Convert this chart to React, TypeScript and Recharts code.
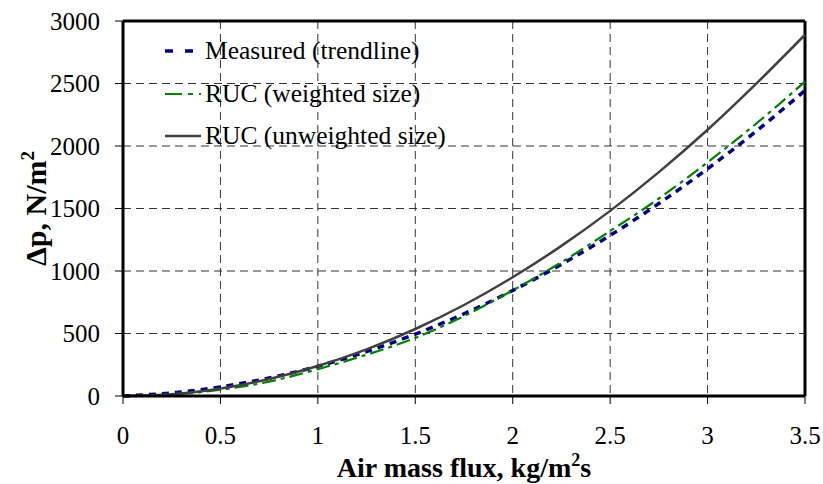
import React from "react";
import {
  LineChart,
  Line,
  XAxis,
  YAxis,
  CartesianGrid,
  ReferenceLine,
  Legend,
  Label,
} from "recharts";

const FONT = '"Liberation Serif", "Times New Roman", serif';

const massFlux = [0, 0.25, 0.5, 0.75, 1, 1.25, 1.5, 1.75, 2, 2.25, 2.5, 2.75, 3, 3.25, 3.5];
const measured = [0, 25, 73, 144, 238, 355, 495, 658, 844, 1053, 1285, 1540, 1818, 2119, 2444];
const rucWeighted = [0, 12, 50, 115, 215, 330, 465, 640, 845, 1070, 1320, 1580, 1870, 2180, 2515];
const rucUnweighted = [0, 14, 60, 136, 240, 373, 536, 728, 950, 1201, 1481, 1791, 2130, 2499, 2890];

const xTicks = [0, 0.5, 1, 1.5, 2, 2.5, 3, 3.5];
const yTicks = [0, 500, 1000, 1500, 2000, 2500, 3000];

const data = massFlux.map((x, i) => ({
  x,
  measured: measured[i],
  weighted: rucWeighted[i],
  unweighted: rucUnweighted[i],
}));

const series = [
  { key: "measured", name: "Measured (trendline)", color: "#000080", width: 3.5, dash: "7 6" },
  { key: "weighted", name: "RUC (weighted size)", color: "#008000", width: 2.2, dash: "14 5 4 5" },
  { key: "unweighted", name: "RUC (unweighted size)", color: "#404040", width: 2.5, dash: undefined },
];

function LegendBox() {
  return (
    <div style={{ fontFamily: FONT, fontSize: 25.5, color: "#000" }}>
      {series.map((s) => (
        <div key={s.key} style={{ display: "flex", alignItems: "center", height: 42.5 }}>
          <svg width={40} height={10} style={{ marginRight: 2 }}>
            <line
              x1={2}
              y1={5}
              x2={38}
              y2={5}
              stroke={s.color}
              strokeWidth={s.width}
              strokeDasharray={s.key === "measured" ? "8 12" : s.key === "weighted" ? "17 6 5 6" : undefined}
            />
          </svg>
          <span>{s.name}</span>
        </div>
      ))}
    </div>
  );
}

function XTitle(props: any) {
  const vb = props.viewBox || {};
  const cx = vb.x + vb.width / 2;
  return (
    <text x={cx} y={477} textAnchor="middle" fontFamily={FONT} fontSize={28} fontWeight="bold" fill="#000">
      Air mass flux, kg/m
      <tspan dy={-11} fontSize={18}>2</tspan>
      <tspan dy={11}>s</tspan>
    </text>
  );
}

function YTitle(props: any) {
  const vb = props.viewBox || {};
  const cy = vb.y + vb.height / 2;
  return (
    <text
      x={46}
      y={cy}
      transform={`rotate(-90, 46, ${cy})`}
      textAnchor="middle"
      fontFamily={FONT}
      fontSize={30}
      fontWeight="bold"
      fill="#000"
    >
      Δp, N/m
      <tspan dy={-12} fontSize={19}>2</tspan>
    </text>
  );
}

export default function App() {
  return (
    <div style={{ width: 823, height: 484, background: "#fff" }}>
      <style>{`body{margin:0}`}</style>
      <LineChart width={823} height={484} data={data} margin={{ top: 21, right: 18, bottom: 0, left: 0 }}>
        <CartesianGrid stroke="#333" strokeDasharray="8 5" strokeWidth={1} />
        <XAxis
          dataKey="x"
          type="number"
          domain={[0, 3.5]}
          ticks={xTicks}
          height={88}
          axisLine={{ stroke: "#000", strokeWidth: 3 }}
          tickLine={{ stroke: "#000", strokeWidth: 1 }}
          tickSize={8}
          tickMargin={22}
          tick={{ fontFamily: FONT, fontSize: 25, fill: "#000" }}
          interval={0}
        >
          <Label content={XTitle} />
        </XAxis>
        <YAxis
          type="number"
          domain={[0, 3000]}
          ticks={yTicks}
          width={123}
          axisLine={{ stroke: "#000", strokeWidth: 3 }}
          tickLine={{ stroke: "#000", strokeWidth: 1 }}
          tickSize={8}
          tickMargin={15}
          tick={{ fontFamily: FONT, fontSize: 25, fill: "#000" }}
          interval={0}
        >
          <Label content={YTitle} />
        </YAxis>
        <ReferenceLine y={3000} stroke="#000" strokeWidth={3} />
        <ReferenceLine x={3.5} stroke="#000" strokeWidth={3} />
        <Legend
          layout="vertical"
          align="center"
          verticalAlign="middle"
          content={() => <LegendBox />}
          wrapperStyle={{ top: 30, left: 163, width: 330 }}
        />
        {series.map((s) => (
          <Line
            key={s.key}
            type="monotone"
            dataKey={s.key}
            name={s.name}
            stroke={s.color}
            strokeWidth={s.width}
            strokeDasharray={s.dash}
            dot={false}
            activeDot={false}
            isAnimationActive={false}
          />
        ))}
      </LineChart>
    </div>
  );
}
